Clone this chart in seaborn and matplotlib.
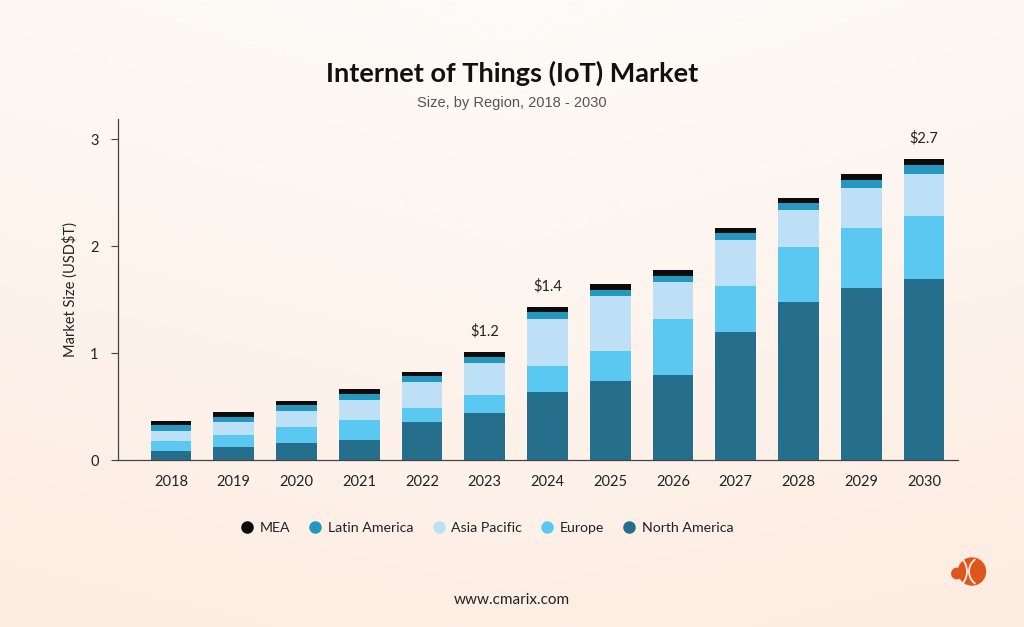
import numpy as np
import pandas as pd
import matplotlib
matplotlib.use("Agg")
import matplotlib.pyplot as plt
from matplotlib.lines import Line2D
from matplotlib.patches import Circle, Arc
import seaborn as sns

# ---- data ----
years = ["2018", "2019", "2020", "2021", "2022", "2023", "2024",
         "2025", "2026", "2027", "2028", "2029", "2030"]
north_america = [0.087, 0.119, 0.156, 0.187, 0.352, 0.436, 0.633, 0.735, 0.797, 1.196, 1.477, 1.607, 1.692]
europe        = [0.093, 0.115, 0.152, 0.190, 0.137, 0.171, 0.246, 0.286, 0.521, 0.433, 0.517, 0.564, 0.588]
asia_pacific  = [0.094, 0.118, 0.153, 0.187, 0.243, 0.302, 0.439, 0.509, 0.343, 0.427, 0.342, 0.371, 0.396]
latin_america = [0.053, 0.053, 0.053, 0.053, 0.053, 0.056, 0.065, 0.065, 0.065, 0.068, 0.072, 0.081, 0.081]
mea           = [0.040, 0.041, 0.040, 0.044, 0.040, 0.041, 0.044, 0.047, 0.047, 0.047, 0.047, 0.050, 0.056]
callout_years = ["2023", "2024", "2030"]
callout_text = ["$1.2", "$1.4", "$2.7"]

series_names = ["North America", "Europe", "Asia Pacific", "Latin America", "MEA"]
colors = {"North America": "#266f8c", "Europe": "#5bc8f1", "Asia Pacific": "#bde0f6",
          "Latin America": "#2698bf", "MEA": "#0b0b0b"}

df = pd.DataFrame({"year": years, "North America": north_america, "Europe": europe,
                   "Asia Pacific": asia_pacific, "Latin America": latin_america, "MEA": mea})
cum = df[series_names].cumsum(axis=1)
cum["year"] = df["year"]

sns.set_theme(style="white")
plt.rcParams["font.family"] = ["Lato", "DejaVu Sans"]

fig = plt.figure(figsize=(10.24, 6.27), dpi=100)

# background gradient
bg = fig.add_axes([0, 0, 1, 1], zorder=-10)
h, w = 200, 200
yy, xx = np.mgrid[0:1:h*1j, 0:1:w*1j]
top = np.array([253, 251, 248]) / 255
bot = np.array([253, 236, 225]) / 255
t = np.clip(yy ** 1.1 * 0.85 + np.abs(xx - 0.5) * 0.35, 0, 1)[..., None]
img = top * (1 - t) + bot * t
bg.imshow(img, aspect="auto", extent=[0, 1, 0, 1], origin="upper")
bg.axis("off")

ax = fig.add_axes([0.1152, 0.2663, 0.8203, 0.5439])
ax.set_facecolor("none")

for name in reversed(series_names):
    sns.barplot(data=cum, x="year", y=name, color=colors[name], width=0.65,
                saturation=1, linewidth=0, edgecolor="none", ax=ax, zorder=2)

ax.set_xlim(-0.845, 12.54)
ax.set_ylim(0, 3.19)
ax.set_yticks([0, 1, 2, 3])
ax.set_yticklabels(["0", "1", "2", "3"])
ax.set_xlabel("")
ax.set_ylabel("Market Size (USD$T)", fontsize=10.5, color="#222222", labelpad=9)
for s in ["top", "right"]:
    ax.spines[s].set_visible(False)
for s in ["left", "bottom"]:
    ax.spines[s].set_color("#444444")
    ax.spines[s].set_linewidth(0.9)
ax.tick_params(axis="y", left=True, length=5, width=0.8, color="#444444",
               labelsize=10.5, labelcolor="#222222", pad=9)
ax.tick_params(axis="x", bottom=False, labelsize=10.5, labelcolor="#222222", pad=5)

totals = cum["MEA"].values
for yr, txt in zip(callout_years, callout_text):
    i = years.index(yr)
    ax.annotate(txt.replace("$", r"\$"), (i, totals[i]), xytext=(0, 10),
                textcoords="offset points", ha="center", va="bottom",
                fontsize=10.5, color="#222222")

# title
fig.text(0.5, 0.883, "Internet of Things (IoT) Market", ha="center", va="center",
         fontsize=19.5, fontweight="bold", color="#111111")
fig.text(0.5, 0.835, "Size, by Region, 2018 - 2030", ha="center", va="center",
         fontsize=10.5, color="#555555", family=["Liberation Sans", "DejaVu Sans"])

# legend
leg_order = ["MEA", "Latin America", "Asia Pacific", "Europe", "North America"]
handles = [Line2D([0], [0], marker="o", linestyle="none", markersize=8,
                  markerfacecolor=colors[n], markeredgecolor=colors[n]) for n in leg_order]
fig.legend(handles, leg_order, loc="center", bbox_to_anchor=(0.476, 0.158), ncol=5,
           frameon=False, fontsize=10.2, handlelength=0.8, handletextpad=0.5,
           columnspacing=1.35, labelcolor="#222222")

# footer
fig.text(0.5, 0.043, "www.cmarix.com", ha="center", va="center", fontsize=11, color="#222222")

# logo (pixel coordinates)
lg = fig.add_axes([940/1024, 1 - 600/627, 60/1024, 55/627])
lg.set_xlim(940, 1000); lg.set_ylim(600, 545); lg.axis("off")
orange = "#df561c"
lg.add_patch(Circle((972, 571.5), 13.5, color=orange))
lg.add_patch(Circle((957, 573.5), 5.2, color=orange))
lg.add_patch(Arc((952, 571.5), 30, 34, theta1=-62, theta2=62, color="#fdeee4", lw=1.3))
lg.add_patch(Arc((984, 571.5), 30, 30, theta1=125, theta2=235, color="#fdeee4", lw=1.3))

fig.savefig("out.png", dpi=100)
